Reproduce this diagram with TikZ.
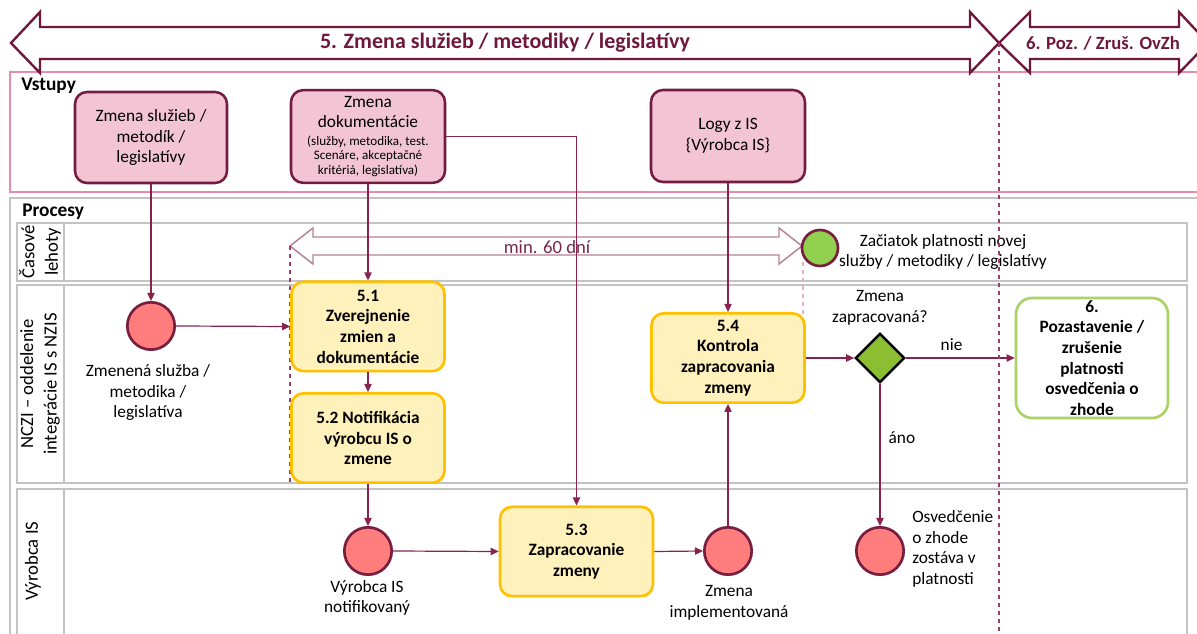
\documentclass[tikz,border=0pt]{standalone}
\usepackage{fontspec}
\setmainfont{Carlito}
\usetikzlibrary{arrows.meta,shapes.geometric}

\definecolor{bannercol}{RGB}{110,25,60}
\definecolor{poolpink}{RGB}{228,140,170}
\definecolor{lanegray}{RGB}{195,195,195}
\definecolor{infill}{RGB}{242,196,212}
\definecolor{inborder}{RGB}{115,28,64}
\definecolor{evfill}{RGB}{255,125,125}
\definecolor{evborder}{RGB}{120,30,62}
\definecolor{taskfill}{RGB}{255,241,188}
\definecolor{taskborder}{RGB}{255,192,0}
\definecolor{flowcol}{RGB}{135,35,80}
\definecolor{timecol}{RGB}{180,130,150}
\definecolor{timetext}{RGB}{120,40,75}
\definecolor{startgreen}{RGB}{146,208,80}
\definecolor{gwgreen}{RGB}{140,190,50}
\definecolor{endgreen}{RGB}{170,210,100}
\definecolor{dashcol}{RGB}{160,60,105}
\definecolor{dashlight}{RGB}{232,176,196}

\newcommand{\smalltxt}{\fontsize{9.8}{11}\selectfont}

\begin{document}
\begin{tikzpicture}[x=0.75pt,y=0.75pt,yscale=-1,xscale=1,
  inbox/.style={draw=inborder,fill=infill,line width=1.9pt,rounded corners=9pt,align=center,inner sep=0pt,font=\fontsize{13}{15.5}\selectfont},
  task/.style={draw=taskborder,fill=taskfill,line width=2pt,rounded corners=9pt,align=center,inner sep=0pt,font=\bfseries\fontsize{13}{15.5}\selectfont,minimum width=114.75pt,minimum height=67pt},
  event/.style={circle,draw=evborder,fill=evfill,line width=2pt,minimum size=35.5pt,inner sep=0pt},
  flow/.style={draw=flowcol,line width=0.9pt,-{Triangle[length=6pt,width=5.5pt]}},
  txt/.style={align=center,inner sep=0pt,font=\fontsize{13}{15.5}\selectfont},
  lanelabel/.style={rotate=90,align=center,inner sep=0pt,font=\fontsize{14}{17.5}\selectfont},
  lane/.style={draw=lanegray,line width=1pt},
  ]
\useasboundingbox (0,0) rectangle (1197,634);

%Pools and lanes
\draw[poolpink,line width=1.5pt] (10,72) rectangle (1210,192);
\draw[lanegray,line width=1.2pt] (10,198) rectangle (1210,640);
\draw[lane] (17,223) rectangle (1187,281);
\draw[lane] (17,285) rectangle (1187,483);
\draw[lane] (17,489) rectangle (1187,640);
\draw[lane] (64,223) -- (64,281);
\draw[lane] (64,285) -- (64,483);
\draw[lane] (64,489) -- (64,640);

%Banner arrows
\draw[bannercol,fill=white,line width=1.8pt,line join=miter] (11,43) -- (40,12) -- (40,27) -- (970,27) -- (970,12) -- (999,43) -- (970,73) -- (970,59) -- (40,59) -- (40,73) -- cycle;
\draw[bannercol,fill=white,line width=1.8pt,line join=miter] (999,43) -- (1030,12) -- (1030,27) -- (1179,27) -- (1179,12) -- (1208,43) -- (1179,73) -- (1179,59) -- (1030,59) -- (1030,73) -- cycle;
\node[text=bannercol,font=\bfseries\fontsize{16.5}{19}\selectfont,inner sep=0pt] (ph5) at (505,43) {5. Zmena služieb / metodiky / legislatívy};
\node[text=bannercol,font=\bfseries\fontsize{14}{16}\selectfont,inner sep=0pt] (ph6) at (1103,43) {6. Poz. / Zruš. OvZh};

% Pool titles
\node[anchor=west,font=\bfseries\fontsize{14.5}{17}\selectfont,inner sep=0pt] (vstupy) at (21,86) {Vstupy};
\node[anchor=west,font=\bfseries\fontsize{14.5}{17}\selectfont,inner sep=0pt] (procesy) at (22,212) {Procesy};

% Lane titles
\node[lanelabel] (lnTime) at (40,252) {Časové\\lehoty};
\node[lanelabel] (lnNczi) at (40,384) {NCZI – oddelenie\\integrácie IS s NZIS};
\node[lanelabel] (lnVyr) at (33,561) {Výrobca IS};

%Time arrow
\coordinate (tl) at (290,246);
\coordinate (tr) at (802,246);
\draw[timecol,fill=white,line width=1.1pt] (tl) -- (313,228) -- (313,237) -- (779,237) -- (779,228) -- (tr) -- (779,264) -- (779,255) -- (313,255) -- (313,264) -- cycle;
\node[text=timetext,font=\fontsize{14}{17}\selectfont,inner sep=0pt] (min60) at (547,247) {min. 60 dní};
\draw[dashcol,dashed,line width=0.8pt] (tl) -- (290,483);
\draw[dashlight,dashed,line width=0.8pt] (803,262) -- (803,358);

% Inputs
\node[inbox,minimum width=114pt,minimum height=68.25pt] (inA) at (151,137.5) {Zmena služieb /\\metodík /\\legislatívy};
\node[inbox,minimum width=115.5pt,minimum height=69.5pt] (inB) at (368,136.5) {Zmena\\dokumentácie\\[-2.5pt]{\smalltxt (služby, metodika, test.}\\[-4.5pt]{\smalltxt Scenáre, akceptačné}\\[-4.5pt]{\smalltxt kritériá, legislatíva)}};
\node[inbox,minimum width=115.5pt,minimum height=69pt] (inC) at (728,136) {Logy z IS\\\{Výrobca IS\}};

% Events
\node[event] (ev1) at (151,326) {};
\node[event] (ev2) at (368,551) {};
\node[event] (ev3) at (728,551) {};
\node[event] (ev4) at (880,551) {};
\node[circle,draw=evborder,fill=startgreen,line width=2pt,minimum size=27pt,inner sep=0pt] (evStart) at (820,248) {};
\node[diamond,draw=black,fill=gwgreen,line width=1.8pt,minimum size=37pt,inner sep=0pt] (gw) at (880,358) {};

% Tasks
\node[task] (t51) at (368,326.5) {5.1\\Zverejnenie\\zmien a\\dokumentácie};
\node[task] (t52) at (368,438) {5.2 Notifikácia\\výrobcu IS o\\zmene};
\node[task] (t53) at (576.5,551.5) {5.3\\Zapracovanie\\zmeny};
\node[task] (t54) at (728,358) {5.4\\Kontrola\\zapracovania\\zmeny};
\node[draw=endgreen,fill=white,line width=2pt,rounded corners=12pt,align=center,inner sep=0pt,font=\bfseries\fontsize{13}{15.5}\selectfont,minimum width=114pt,minimum height=90pt] (t6) at (1092,358) {6.\\Pozastavenie /\\zrušenie\\platnosti\\osvedčenia o\\zhode};

% Text Node
\node[txt] (lbEv1) at (148,392.5) {Zmenená služba /\\metodika /\\legislatíva};
\node[txt] (lbEv2) at (367,598) {Výrobca IS\\notifikovaný};
\node[txt] (lbEv3) at (729,603) {Zmena\\implementovaná};
\node[txt,anchor=west,align=left] (lbEv4) at (912,549) {Osvedčenie\\o zhode\\zostáva v\\platnosti};
\node[txt] (lbGw) at (880,308) {Zmena\\zapracovaná?};
\node[txt] (lbStart) at (943,252) {Začiatok platnosti novej\\služby / metodiky / legislatívy};

%Connectors
\draw[flow] (inA.south) -- (ev1.north);
\draw[flow] (ev1.east) -- (t51.west);
\draw[flow] (inB.south) -- (t51.north);
\draw[flow] (inB.east) -| (t53.north);
\draw[flow] (t51.south) -- (t52.north);
\draw[flow] (t52.south) -- (ev2.north);
\draw[flow] (ev2.east) -- (t53.west);
\draw[flow] (t53.east) -- (ev3.west);
\draw[flow] (ev3.north) -- (t54.south);
\draw[flow] (inC.south) -- (t54.north);
\draw[flow] (t54.east) -- (gw.west);
\draw[flow] (gw.east) -- node[txt,pos=0.42,above=5pt] (lbNie) {nie} (t6.west);
\draw[flow] (gw.south) -- node[txt,pos=0.38,right=6pt] (lbAno) {áno} (ev4.north);

%Phase border
\draw[dashcol,dashed,line width=0.8pt] (999,43) -- (999,640);

\end{tikzpicture}
\end{document}
